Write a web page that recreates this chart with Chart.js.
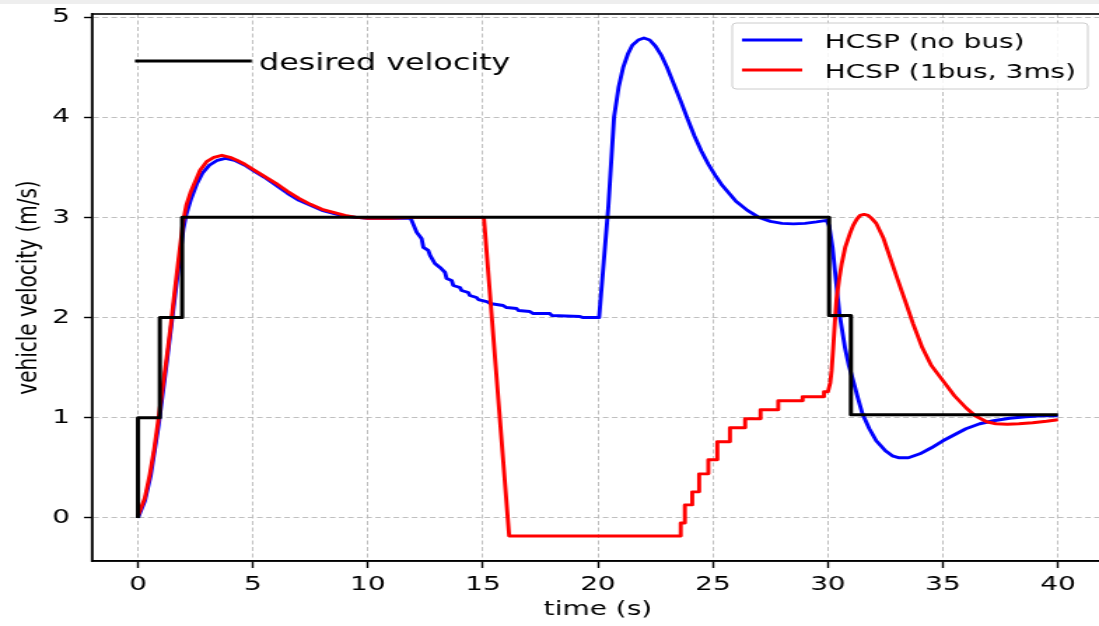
<!DOCTYPE html>
<html>
<head>
<meta charset="utf-8">
<script src="https://cdn.jsdelivr.net/npm/chart.js@4.4.1/dist/chart.umd.min.js"></script>
<style>
  html, body { margin: 0; padding: 0; background: #fff; overflow: hidden; width: 1099px; height: 626px; }
  #topband { position: absolute; left: 0; top: 0; width: 1099px; height: 4px; background: #eeeeee; }
  /* the source picture is stretched sideways, so draw narrow and scale the box */
  #wrap { position: absolute; left: 0; top: 0; width: 790px; height: 626px; transform: scaleX(1.4); transform-origin: 0 0; }
</style>
</head>
<body>
<div id="wrap"><canvas id="chart"></canvas></div>
<div id="topband"></div>
<script>
// ticks
var xTicks = [0, 5, 10, 15, 20, 25, 30, 35, 40];
var yTicks = [0, 1, 2, 3, 4, 5];

// desired velocity (step reference)
var desiredT = [0, 0, 0.95, 0.95, 1.92, 1.92, 30.05, 30.05, 31.0, 31.0, 40];
var desiredV = [0, 1, 1, 2, 2, 3, 3, 2.02, 2.02, 1.03, 1.03];

// HCSP (no bus)
var noBusT = [0, 0.3, 0.55, 0.9, 1.25, 1.6, 1.97, 2.1, 2.3, 2.55, 2.8, 3.1, 3.45, 3.8, 4.2, 4.65, 5.0, 5.5, 6.0, 6.5, 7.0, 7.5, 8.0, 8.5, 9.0, 9.5, 10, 11, 11.86,
  12.12, 12.33, 12.41, 12.62, 12.7, 12.91, 13.13, 13.35, 13.42, 13.64, 13.71, 14.0, 14.07, 14.36, 14.43, 14.72, 14.8,
  15.16, 15.3, 15.88, 16.03, 16.46, 16.54, 17.04, 17.19, 17.91, 17.99, 19.22, 19.36, 20.05,
  20.25, 20.45, 20.7, 20.9, 21.1, 21.3, 21.5, 21.75, 22.0, 22.25, 22.5, 22.75, 23.0, 23.3, 23.6, 23.9, 24.2, 24.5, 24.8,
  25.1, 25.4, 25.7, 26.0, 26.5, 27.0, 27.5, 28.0, 28.5, 29.0, 29.5, 29.94,
  30.05, 30.2, 30.35, 30.5, 30.74, 30.9, 31.1, 31.3, 31.5, 31.8, 32.1, 32.5, 32.8, 33.1, 33.5, 34.0, 34.5, 35.0, 35.5,
  36.0, 36.6, 37.2, 37.9, 38.6, 39.3, 40];
var noBusV = [0, 0.17, 0.42, 0.93, 1.55, 2.2, 2.88, 3.03, 3.18, 3.33, 3.44, 3.52, 3.57, 3.59, 3.57, 3.52, 3.47, 3.40, 3.32, 3.24, 3.17, 3.12, 3.07, 3.04, 3.01, 3.0, 2.99, 2.99, 2.99,
  2.85, 2.79, 2.70, 2.67, 2.62, 2.54, 2.50, 2.45, 2.39, 2.37, 2.32, 2.30, 2.27, 2.25, 2.22, 2.20, 2.18,
  2.16, 2.14, 2.12, 2.10, 2.09, 2.07, 2.06, 2.04, 2.04, 2.02, 2.01, 2.0, 2.0,
  2.55, 3.1, 4.0, 4.3, 4.5, 4.63, 4.72, 4.77, 4.79, 4.77, 4.71, 4.62, 4.5, 4.33, 4.16, 3.98, 3.81, 3.66, 3.53,
  3.42, 3.32, 3.24, 3.16, 3.07, 3.0, 2.96, 2.94, 2.935, 2.94, 2.955, 2.97,
  2.92, 2.70, 2.37, 2.04, 1.70, 1.53, 1.37, 1.2, 1.04, 0.89, 0.77, 0.67, 0.62, 0.60, 0.60, 0.64, 0.70, 0.77, 0.83,
  0.89, 0.94, 0.97, 0.995, 1.01, 1.02, 1.02];

// HCSP (1bus, 3ms)
var busT = [0, 0.3, 0.52, 0.7, 0.88, 1.06, 1.25, 1.43, 1.6, 1.8, 1.97, 2.1, 2.3, 2.55, 2.7, 3.0, 3.3, 3.65, 4.0, 4.3, 4.65,
  5.0, 5.5, 6.0, 6.5, 7.0, 7.5, 8.0, 8.5, 9.0, 9.5, 10, 11, 12, 15.04,
  16.14, 23.6, 23.6, 23.78, 23.78, 24.1, 24.1, 24.4, 24.4, 24.8, 24.8, 25.19, 25.19, 25.74, 25.74, 26.4, 26.4,
  27.07, 27.07, 27.84, 27.84, 28.9, 28.9, 29.83, 29.83, 30.0,
  30.1, 30.16, 30.23, 30.3, 30.38, 30.5, 30.6, 30.75, 30.96, 31.1, 31.25, 31.4, 31.57, 31.75, 31.9, 32.1, 32.4, 32.7,
  33.0, 33.4, 33.7, 34.1, 34.5, 35.0, 35.5, 36.0, 36.4, 36.9, 37.3, 37.8, 38.3, 38.9, 39.5, 40];
var busV = [0.02, 0.2, 0.44, 0.68, 0.97, 1.28, 1.6, 1.93, 2.27, 2.65, 2.97, 3.12, 3.26, 3.39, 3.47, 3.56, 3.60, 3.62, 3.60, 3.57, 3.53,
  3.48, 3.41, 3.34, 3.26, 3.19, 3.13, 3.08, 3.05, 3.02, 3.0, 2.99, 2.99, 3.0, 3.0,
  -0.18, -0.18, -0.05, -0.05, 0.13, 0.13, 0.26, 0.26, 0.44, 0.44, 0.58, 0.58, 0.76, 0.76, 0.90, 0.90, 0.99,
  0.99, 1.08, 1.08, 1.17, 1.17, 1.21, 1.21, 1.26, 1.26,
  1.35, 1.47, 1.70, 1.95, 2.2, 2.4, 2.54, 2.7, 2.84, 2.92, 2.98, 3.02, 3.03, 3.02, 2.99, 2.94, 2.8, 2.6,
  2.4, 2.14, 1.94, 1.70, 1.52, 1.37, 1.22, 1.10, 1.02, 0.96, 0.94, 0.935, 0.94, 0.95, 0.965, 0.98];

function pairs(ts, vs) {
  var out = [];
  for (var i = 0; i < ts.length; i++) out.push({x: ts[i], y: vs[i]});
  return out;
}

Chart.defaults.font.family = 'DejaVu Sans';
Chart.defaults.color = '#000';

// box round the plot, like matplotlib spines
var framePlugin = {
  id: 'frame',
  afterDraw: function(chart) {
    var a = chart.chartArea, c = chart.ctx;
    c.save();
    c.strokeStyle = '#000';
    c.lineWidth = 1.6;
    c.strokeRect(a.left, a.top, a.right - a.left, a.bottom - a.top);
    c.restore();
  }
};

// two legends: the black one top left, the box top right
var legendPlugin = {
  id: 'legends',
  afterDraw: function(chart) {
    var c = chart.ctx, ds = chart.data.datasets;
    c.save();
    // desired velocity
    c.strokeStyle = ds[0].borderColor;
    c.lineWidth = 3;
    c.beginPath(); c.moveTo(96.4, 61); c.lineTo(179.8, 61); c.stroke();
    c.fillStyle = '#000';
    c.font = '22.7px "DejaVu Sans"';
    c.textBaseline = 'alphabetic';
    c.fillText(ds[0].label, 185, 70);

    // box
    var bx = 523, by = 23, bw = 254, bh = 66, r = 3;
    c.beginPath();
    c.moveTo(bx + r, by);
    c.lineTo(bx + bw - r, by); c.quadraticCurveTo(bx + bw, by, bx + bw, by + r);
    c.lineTo(bx + bw, by + bh - r); c.quadraticCurveTo(bx + bw, by + bh, bx + bw - r, by + bh);
    c.lineTo(bx + r, by + bh); c.quadraticCurveTo(bx, by + bh, bx, by + bh - r);
    c.lineTo(bx, by + r); c.quadraticCurveTo(bx, by, bx + r, by);
    c.closePath();
    c.fillStyle = 'rgba(255,255,255,0.85)';
    c.fill();
    c.strokeStyle = '#cccccc';
    c.lineWidth = 1;
    c.stroke();

    var rows = [[ds[2], 40, 48], [ds[1], 70, 78]];
    c.font = '20px "DejaVu Sans"';
    rows.forEach(function(row) {
      c.strokeStyle = row[0].borderColor;
      c.lineWidth = 2.9;
      c.beginPath(); c.moveTo(530, row[1]); c.lineTo(573, row[1]); c.stroke();
      c.fillStyle = '#000';
      c.fillText(row[0].label, 589, row[2]);
    });
    c.restore();
  }
};

var ctx = document.getElementById('chart').getContext('2d');
var chart = new Chart(ctx, {
  type: 'line',
  data: {
    datasets: [
      {label: 'desired velocity', data: pairs(desiredT, desiredV), borderColor: '#000000', borderWidth: 3},
      {label: 'HCSP (1bus, 3ms)', data: pairs(busT, busV), borderColor: '#ff0000', borderWidth: 2.9},
      {label: 'HCSP (no bus)', data: pairs(noBusT, noBusV), borderColor: '#0000ff', borderWidth: 2.9}
    ]
  },
  options: {
    responsive: true,
    maintainAspectRatio: false,
    animation: false,
    devicePixelRatio: 1,
    layout: {padding: {top: 14, right: 1.4, left: 0, bottom: 0}},
    elements: {
      point: {radius: 0},
      line: {tension: 0, borderJoinStyle: 'round', borderCapStyle: 'butt', fill: false}
    },
    plugins: {legend: {display: false}, tooltip: {enabled: false}},
    scales: {
      x: {
        type: 'linear', min: -2, max: 42,
        afterBuildTicks: function(s) { s.ticks = xTicks.map(function(v) { return {value: v}; }); },
        afterFit: function(s) { s.height = 65; s.paddingLeft = 0; s.paddingRight = 0; },
        grid: {color: '#b8b8b8', lineWidth: 0.9, tickColor: '#000', tickWidth: 1.4, tickLength: 7},
        border: {display: true, color: '#000', width: 1.6, dash: [4, 2.5]},
        ticks: {font: {size: 20}, color: '#000', padding: 4.5, maxRotation: 0},
        title: {display: true, text: 'time (s)', font: {size: 20}, color: '#000', padding: {top: 0, bottom: 4}}
      },
      y: {
        type: 'linear', min: -0.43, max: 5.03,
        afterBuildTicks: function(s) { s.ticks = yTicks.map(function(v) { return {value: v}; }); },
        afterFit: function(s) { s.width = 65.7; s.paddingTop = 0; s.paddingBottom = 0; },
        grid: {color: '#b8b8b8', lineWidth: 0.9, tickColor: '#000', tickWidth: 1.4, tickLength: 5.7},
        border: {display: true, color: '#000', width: 1.6, dash: [4, 2.5]},
        ticks: {font: {size: 20}, color: '#000', padding: 10},
        title: {display: true, text: 'vehicle velocity (m/s)', font: {size: 20}, color: '#000', padding: {top: 9, bottom: 0}}
      }
    }
  },
  plugins: [framePlugin, legendPlugin]
});
</script>
</body>
</html>
